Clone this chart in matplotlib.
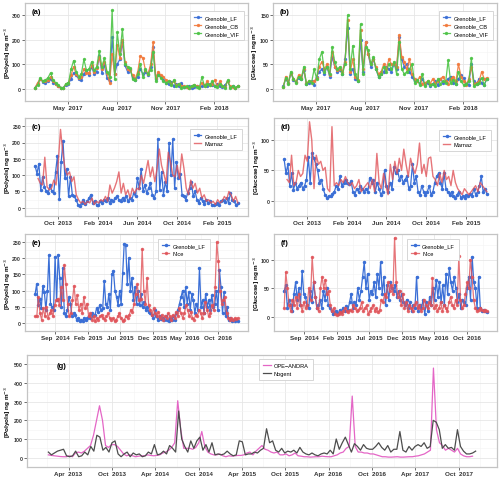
import matplotlib
matplotlib.use('Agg')
import matplotlib.pyplot as plt
import matplotlib.dates as mdates
import numpy as np
import pandas as pd

plt.rcParams['font.family'] = ['Liberation Sans', 'DejaVu Sans']

# ---------------- DATA ----------------
# Panel (a) polyols, Grenoble sites, 2017-02-28 .. 2018-03-18
a_start, a_end = '2017-02-28', '2018-03-18'
a_LF = [5, 20, 40, 28, 25, 30, 40, 25, 20, 10, 5, 3, 15,
        20, 40, 65, 55, 40, 35, 60,
        75, 55, 90, 60, 70, 135, 65, 95, 45, 30,
        210, 60, 100, 120, 190, 95, 70, 80, 45, 35,
        50, 80, 60, 70, 55, 90, 170, 40, 60, 50,
        35, 25, 20, 28, 12, 20, 10, 22, 8, 6,
        10, 5, 8, 12, 6, 10, 15, 12, 20, 15,
        10, 18, 12, 8, 15, 30, 8, 10, 5, 10]
a_CB = [5, 25, 40, 30, 30, 35, 50, 30, 20, 12, 5, 4, 18,
        22, 55, 90, 60, 45, 50, 80,
        65, 65, 95, 70, 85, 130, 80, 110, 65, 25,
        140, 60, 180, 125, 200, 110, 80, 75, 55, 40,
        70, 135, 125, 75, 60, 100, 190, 45, 70, 55,
        50, 35, 30, 20, 30, 15, 20, 10, 10, 8,
        5, 10, 15, 10, 8, 25, 10, 30, 15, 20,
        35, 10, 30, 12, 8, 30, 10, 8, 5, 10]
a_VIF = [5, 15, 45, 30, 35, 45, 65, 35, 25, 15, 5, 5, 20,
         25, 80, 115, 70, 50, 60, 120,
         75, 80, 110, 75, 90, 155, 90, 125, 70, 50,
         320, 40, 230, 140, 245, 100, 90, 85, 40, 35,
         60, 100, 50, 80, 60, 75, 150, 30, 55, 45,
         30, 25, 30, 15, 35, 10, 20, 5, 8, 10,
         5, 12, 15, 8, 5, 48, 10, 20, 15, 30,
         10, 8, 20, 10, 5, 35, 5, 10, 5, 10]

# Panel (b) glucose, same sites and period
b_LF = [5, 20, 12, 32, 18, 14, 22, 20, 38, 10, 12, 15, 8,
        25, 35, 40, 30, 45, 25, 65, 45, 35, 38, 30, 60, 125, 30, 40, 20, 15,
        100, 35, 95, 70, 45, 60, 40, 25, 30, 35, 45, 40, 35, 50, 40, 105, 60,
        45, 50, 35, 25, 15, 18, 10, 20, 8, 12, 6, 10, 15, 8, 20, 12, 15, 20,
        25, 12, 10, 20, 28, 22, 10, 8, 50, 15, 10, 20, 12, 8, 20]
b_CB = [3, 25, 12, 33, 20, 14, 28, 22, 40, 12, 15, 14, 15,
        22, 45, 55, 40, 50, 28, 75, 45, 38, 40, 35, 55, 140, 35, 60, 25, 18,
        120, 40, 95, 70, 50, 60, 45, 30, 35, 50, 40, 60, 50, 50, 45, 110, 65,
        55, 40, 60, 30, 20, 15, 25, 10, 12, 15, 10, 20, 12, 15, 20, 25, 15, 10,
        20, 25, 15, 50, 25, 15, 8, 20, 45, 10, 12, 15, 35, 20, 22]
b_VIF = [3, 22, 10, 35, 20, 12, 25, 20, 45, 10, 15, 12, 40,
         20, 60, 75, 35, 45, 30, 85, 55, 40, 45, 30, 50, 150, 40, 88, 30, 15,
         132, 30, 85, 80, 50, 65, 40, 25, 30, 45, 35, 50, 40, 55, 30, 95, 40,
         30, 35, 40, 50, 12, 18, 8, 30, 5, 15, 8, 10, 5, 20, 10, 15, 12, 58,
         12, 18, 10, 35, 15, 8, 10, 15, 62, 5, 10, 12, 22, 8, 20]

# Panel (c) polyols, Grenoble_LF vs Marnaz
c_LF_start, c_LF_end = '2013-07-23', '2015-04-05'
c_MA_start, c_MA_end = '2013-08-01', '2015-04-05'
c_LF = [128, 105, 135, 55, 95, 65, 50, 45, 70, 50, 45, 110, 160, 28, 140, 205,
        90, 120, 35, 95, 40, 35, 25, 10, 5, 15, 25, 12, 20, 30, 40, 15, 20, 10,
        8, 20, 15, 25, 20, 30, 15, 25, 20, 30, 35, 25, 20, 30, 25, 35, 20, 30,
        25, 45, 35, 90, 60, 120, 50, 70, 45, 60, 75, 40, 30, 50, 210, 55, 110,
        40, 80, 50, 200, 100, 210, 60, 140, 90, 105, 40, 35, 25, 45, 60, 80, 35,
        50, 25, 15, 30, 20, 12, 25, 15, 20, 10, 8, 12, 15, 10, 20, 25, 18, 30,
        15, 45, 25, 20, 8, 15]
c_MA = [90, 75, 70, 155, 65, 55, 60, 85, 70, 140, 240, 170, 120, 100, 110, 80,
        95, 40, 25, 15, 20, 10, 20, 15, 30, 10, 20, 15, 25, 20, 35, 20, 70, 45,
        60, 80, 110, 45, 75, 40, 55, 30, 60, 45, 60, 55, 100, 75, 110, 145, 95,
        125, 80, 120, 180, 130, 105, 75, 170, 140, 100, 95, 130, 90, 165, 120,
        60, 40, 85, 60, 75, 45, 60, 30, 40, 20, 25, 15, 20, 10, 25, 15, 20, 35,
        25, 50, 40, 20, 35, 15]

# Panel (d) glucose, Grenoble_LF vs Marnaz
d_LF = [68, 45, 60, 25, 45, 18, 30, 20, 25, 30, 20, 25, 35, 72, 30, 78, 70, 60,
        50, 30, 35, 20, 10, 5, 8, 8, 12, 15, 25, 20, 40, 25, 30, 35, 30, 28, 32,
        15, 10, 20, 15, 25, 20, 15, 20, 15, 38, 30, 35, 15, 30, 20, 10, 15, 50,
        25, 15, 30, 20, 55, 45, 50, 35, 40, 30, 35, 40, 20, 25, 60, 30, 40, 15,
        10, 25, 15, 10, 15, 25, 10, 15, 30, 40, 45, 30, 20, 45, 20, 15, 10, 15,
        8, 5, 10, 15, 5, 8, 5, 10, 8, 12, 8, 20, 10, 15, 25, 40, 15, 20, 12]
d_MA = [35, 30, 75, 25, 30, 50, 40, 45, 75, 65, 130, 100, 20, 75, 60, 65, 50,
        55, 20, 15, 122, 25, 30, 25, 35, 30, 40, 30, 25, 30, 20, 25, 35, 15, 20,
        25, 30, 20, 35, 15, 78, 30, 20, 45, 25, 10, 60, 35, 65, 45, 70, 50, 85,
        60, 40, 70, 55, 45, 60, 95, 45, 60, 40, 70, 72, 40, 35, 25, 45, 30, 50,
        35, 40, 25, 50, 30, 20, 15, 10, 20, 15, 10, 15, 20, 25, 15, 30, 25, 20, 15]

# Panel (e) polyols, Grenoble_LF vs Nice
e_start, e_end = '2014-05-30', '2017-01-03'
e_LF = [90, 120, 55, 75, 45, 115, 95, 40, 100, 210, 60, 50, 40, 205, 70, 210,
        140, 50, 170, 30, 20, 40, 80,
        60, 20, 30, 25, 10, 15, 5, 10, 5, 15, 10, 15, 20, 15, 30, 20, 25, 45, 35,
        55, 40, 45, 130, 60, 50, 90, 40, 150, 160, 100, 80, 55, 100, 60, 155,
        245, 240, 120, 200, 100, 140, 70, 110, 60, 100, 55, 90, 50, 65, 40, 50,
        35, 30, 25, 15, 40,
        20, 10, 20, 12, 15, 10, 20, 8, 5, 15, 10, 20, 10, 30, 40, 60, 80, 100, 50,
        110, 60, 95, 40, 90, 70, 30, 60, 40, 170, 50, 70, 30, 90, 50, 70, 40, 85,
        50, 60, 100, 40, 165, 110, 30, 95, 20, 50, 10, 15, 5, 10, 5, 8, 5]
e_NI = [20, 20, 80, 30, 10, 45, 20, 50, 15, 30, 40, 20, 55, 70, 75, 55, 110, 70,
        180, 120, 60, 20, 30, 70, 115, 60, 85, 40, 60, 30, 80, 45, 60, 20, 30, 10,
        20, 5, 15, 10, 20, 25, 15, 10, 20, 30, 15, 10, 15, 5, 10, 20, 30, 15, 5,
        10, 20, 15, 25, 40, 35, 60, 90, 120, 70, 75, 230, 100, 60, 140, 55, 40,
        25, 45, 30, 20, 35, 15, 25, 10, 20, 15, 30, 20, 10, 25, 15, 35, 20, 45,
        30, 15, 30, 55, 40, 20, 35, 15, 10, 25, 20, 40, 30, 15, 30, 65, 40, 20,
        30, 55, 40, 110, 250, 190, 100, 60, 70, 80, 30, 15, 10, 15, 10, 15, 12, 15]

# Panel (f) glucose, Grenoble_LF vs Nice
f_LF = [45, 55, 15, 30, 20, 10, 40, 60, 30, 50, 20, 80, 40, 35, 20, 15, 45, 25,
        60, 35, 15, 20, 30, 15, 45, 30, 50, 20, 15, 10, 5, 8, 10, 5, 12, 8, 15,
        10, 18, 12, 25, 40, 15, 25, 20, 50, 30, 45, 70, 95, 50, 75, 30, 45, 40,
        60, 35, 75, 50, 95, 40, 70, 20, 55, 30, 60, 50, 45, 55, 35, 45, 30, 40,
        25, 20, 30, 15, 25, 10, 20, 15, 70, 10, 20, 15, 30, 5, 25, 10, 35, 20,
        50, 30, 65, 35, 60, 25, 55, 20, 75, 40, 85, 60, 45, 70, 50, 25, 40, 15,
        30, 25, 20, 50, 70, 30, 105, 60, 50, 15, 70, 15, 10, 12, 10, 8]
f_NI = [15, 78, 50, 20, 10, 30, 20, 35, 15, 40, 20, 10, 25, 15, 20, 50, 30, 105,
        60, 35, 15, 10, 50, 70, 50, 65, 40, 45, 20, 10, 15, 5, 3, 5, 8, 5, 10, 15,
        10, 8, 12, 10, 20, 15, 10, 12, 15, 25, 10, 15, 20, 5, 10, 15, 20, 10, 15,
        8, 12, 30, 25, 40, 35, 60, 45, 55, 40, 138, 60, 35, 45, 20, 40, 15, 25,
        10, 20, 15, 10, 20, 25, 15, 20, 10, 15, 30, 20, 15, 25, 20, 68, 15, 20,
        10, 15, 25, 10, 20, 15, 10, 25, 35, 20, 15, 30, 20, 107, 30, 15, 20, 40,
        60, 50, 100, 70, 30, 15, 10, 12, 15, 12, 10, 12, 10]

# Panel (g) polyols, OPE-ANDRA vs Nogent
g_start, g_end = '2013-01-06', '2017-12-12'
g_OPE_end = '2017-11-29'
g_OPE = [15, 12, 10, 8, 6, 5, 5, 10, 5, 25, 30, 25, 35, 50, 65, 120, 200, 278,
         200, 65, 55, 70, 70, 60, 40, 20, 10, 15, 10, 5, 8, 10, 10, 15, 12, 10,
         12, 15, 25, 30, 40, 55, 80, 305, 150, 50, 50, 50, 45, 55, 80, 140, 60,
         30, 20, 15, 15, 20, 10, 5, 10, 8, 10, 12, 12, 15, 25, 30, 15, 35, 50,
         65, 45, 40, 30, 25, 30, 15, 15, 20, 10, 15, 25, 10, 8, 5, 5, 3, 4, 5, 5,
         8, 6, 5, 5, 10, 15, 25, 30, 50, 60, 330, 60, 30, 30, 25, 25, 20, 20, 15,
         10, 5, 5, 3, 3, 4, 5, 3, 3, 4, 5, 5, 8, 10, 15, 20, 30, 40, 480, 150, 80,
         65, 40, 50, 40, 30, 50, 20, 10, 5, 5, 8]
g_NOG = [30, 15, 25, 35, 40, 45, 10, 5, 10, 35, 5, 10, 30, 15, 60, 35, 120, 110,
         40, 55, 30, 80, 90, 20, 5, 20, 30, 5, 25, 15, 20, 5, 10, 30, 20, 70, 15,
         20, 35, 20, 65, 50, 30, 250, 100, 60, 30, 90, 50, 90, 110, 40, 70, 30,
         80, 15, 20, 15, 20, 35, 20, 10, 15, 90, 85, 15, 20, 20, 30, 25, 40, 50,
         155, 80, 90, 40, 30, 50, 25, 35, 30, 40, 25, 55, 30, 20, 15, 25, 15, 10,
         20, 25, 20, 40, 20, 100, 45, 80, 110, 70, 30, 75, 60, 40, 70, 50, 45, 45,
         60, 80, 55, 40, 65, 30, 45, 45, 140, 40, 30, 60, 40, 60, 70, 60, 80, 50,
         60, 200, 190, 150, 50, 70, 50, 55, 40, 150, 60, 35, 20, 20, 25, 35]

ticks_ab = ['2017-05-01', '2017-08-01', '2017-11-01', '2018-02-01']
labels_ab = ['May  2017', 'Aug  2017', 'Nov  2017', 'Feb  2018']
ticks_cd = ['2013-10-01', '2014-02-01', '2014-06-01', '2014-10-01', '2015-02-01']
labels_cd = ['Oct  2013', 'Feb  2014', 'Jun  2014', 'Oct  2014', 'Feb  2015']
ticks_ef = ['2014-09-01', '2015-02-01', '2015-07-01', '2015-12-01', '2016-05-01', '2016-10-01']
labels_ef = ['Sep  2014', 'Feb  2015', 'Jul  2015', 'Dec  2015', 'May  2016', 'Oct  2016']
ticks_g = ['2013-04-01', '2013-10-01', '2014-04-01', '2014-10-01', '2015-04-01',
           '2015-10-01', '2016-04-01', '2016-10-01', '2017-04-01', '2017-10-01']
labels_g = ['Apr  2013', 'Oct  2013', 'Apr  2014', 'Oct  2014', 'Apr  2015',
            'Oct  2015', 'Apr  2016', 'Oct  2016', 'Apr  2017', 'Oct  2017']

C_BLUE = '#3b6fd6'
C_ORANGE = '#f27a3c'
C_GREEN = '#4ec447'
C_RED = '#e05258'
C_PINK = '#e466c6'
C_GRAY = '#4d4d4d'

POLY = '[Polyols] ng m$^{-3}$'
GLUC = '[Glucose] ng m$^{-3}$'

# ---------------- FIGURE ----------------
W, H = 500, 481
fig = plt.figure(figsize=(W / 100, H / 100), dpi=100)


def box(l, t, r, b):
    return [l / W, 1 - b / H, (r - l) / W, (b - t) / H]


def dr(s, e, vals):
    return pd.date_range(s, e, periods=len(vals))


def style(ax, ticks, labels, yticks, ylabel, letter, lx=0.03, ylx=-0.056):
    ax.set_facecolor('white')
    for s in ax.spines.values():
        s.set_color('#c4c4c4')
        s.set_linewidth(0.9)
    ax.margins(x=0.05, y=0.05)
    tk = pd.to_datetime(ticks)
    ax.set_xticks(tk)
    ax.set_xticklabels(labels)
    ax.set_yticks(yticks)
    t = mdates.date2num(tk)
    step = np.diff(t).mean()
    mids = np.concatenate([[t[0] - step / 2], (t[:-1] + t[1:]) / 2, [t[-1] + step / 2]])
    ax.set_xticks(mids, minor=True)
    yt = np.array(yticks, float)
    ys = yt[1] - yt[0]
    ax.set_yticks(np.concatenate([[yt[0] - ys / 2], yt + ys / 2]), minor=True)
    ax.tick_params(which='major', length=2, width=0.5,
                   color='#333333', labelcolor='#333333')
    ax.tick_params(axis='x', which='major', labelsize=4.5, pad=1.2)
    ax.tick_params(axis='y', which='major', labelsize=3.7, pad=0.8)
    ax.tick_params(which='minor', length=0)
    for lbl in ax.get_xticklabels() + ax.get_yticklabels():
        lbl.set_fontweight('bold')
    ax.grid(True, which='major', color='#e6e6e6', lw=0.6)
    ax.grid(True, which='minor', color='#f3f3f3', lw=0.4)
    ax.set_axisbelow(True)
    ax.set_ylabel(ylabel, fontsize=4.6, fontweight='bold')
    ax.yaxis.set_label_coords(ylx, 0.5)
    ax.text(lx, 0.91, letter, transform=ax.transAxes, fontsize=5.5,
            fontweight='bold', va='center', ha='left')


def leg(ax, fx, fy):
    lg = ax.legend(loc='upper left', bbox_to_anchor=(fx, fy), fontsize=4.1,
                   frameon=True, fancybox=False, edgecolor='#d0d0d0', framealpha=1,
                   handlelength=1.3, borderpad=0.7, labelspacing=0.55,
                   handletextpad=0.6, borderaxespad=0)
    lg.get_frame().set_linewidth(0.6)


lkw = dict(lw=0.9, marker='o', ms=1.4, alpha=0.9)

# (a)
ax = fig.add_axes(box(25, 4, 248, 102))
ax.plot(dr(a_start, a_end, a_LF), a_LF, color=C_BLUE, label='Grenoble_LF', **lkw)
ax.plot(dr(a_start, a_end, a_CB), a_CB, color=C_ORANGE, label='Grenoble_CB', **lkw)
ax.plot(dr(a_start, a_end, a_VIF), a_VIF, color=C_GREEN, label='Grenoble_VIF', **lkw)
style(ax, ticks_ab, labels_ab, [0, 100, 200, 300], POLY, '(a)')
leg(ax, 0.74, 0.918)

# (b)
ax = fig.add_axes(box(273, 4, 497, 102))
ax.plot(dr(a_start, a_end, b_LF), b_LF, color=C_BLUE, label='Grenoble_LF', **lkw)
ax.plot(dr(a_start, a_end, b_CB), b_CB, color=C_ORANGE, label='Grenoble_CB', **lkw)
ax.plot(dr(a_start, a_end, b_VIF), b_VIF, color=C_GREEN, label='Grenoble_VIF', **lkw)
style(ax, ticks_ab, labels_ab, [0, 50, 100, 150], GLUC, '(b)')
leg(ax, 0.74, 0.918)

# (c)
ax = fig.add_axes(box(25, 119, 248, 217))
ax.plot(dr(c_LF_start, c_LF_end, c_LF), c_LF, color=C_BLUE, label='Grenoble_LF',
        lw=0.9, marker='o', ms=1.5)
ax.plot(dr(c_MA_start, c_MA_end, c_MA), c_MA, color=C_RED, label='Marnaz',
        lw=1.0, alpha=0.8)
style(ax, ticks_cd, labels_cd, [0, 50, 100, 150, 200, 250], POLY, '(c)')
leg(ax, 0.74, 0.888)

# (d)
ax = fig.add_axes(box(274, 119, 497, 217))
ax.plot(dr(c_LF_start, c_LF_end, d_LF), d_LF, color=C_BLUE, label='Grenoble_LF',
        lw=0.9, marker='o', ms=1.5)
ax.plot(dr(c_MA_start, c_MA_end, d_MA), d_MA, color=C_RED, label='Marnaz',
        lw=1.0, alpha=0.8)
style(ax, ticks_cd, labels_cd, [0, 50, 100], GLUC, '(d)')
leg(ax, 0.74, 0.878)

# (e)
ax = fig.add_axes(box(25, 235, 248, 332))
ax.plot(dr(e_start, e_end, e_LF), e_LF, color=C_BLUE, label='Grenoble_LF',
        lw=0.9, marker='o', ms=1.5)
ax.plot(dr(e_start, e_end, e_NI), e_NI, color=C_RED, label='Nice',
        lw=0.9, marker='o', ms=1.5, alpha=0.8)
style(ax, ticks_ef, labels_ef, [0, 50, 100, 150, 200, 250], POLY, '(e)')
leg(ax, 0.596, 0.948)

# (f)
ax = fig.add_axes(box(274, 235, 497, 332))
ax.plot(dr(e_start, e_end, f_LF), f_LF, color=C_BLUE, label='Grenoble_LF',
        lw=0.9, marker='o', ms=1.5)
ax.plot(dr(e_start, e_end, f_NI), f_NI, color=C_RED, label='Nice',
        lw=0.9, marker='o', ms=1.5, alpha=0.8)
style(ax, ticks_ef, labels_ef, [0, 50, 100], GLUC, '(f)')
leg(ax, 0.598, 0.948)

# (g)
ax = fig.add_axes(box(27, 356, 497, 468))
ax.plot(dr(g_start, g_OPE_end, g_OPE), g_OPE, color=C_PINK, label='OPE\u2212ANDRA', lw=0.9)
ax.plot(dr(g_start, g_end, g_NOG), g_NOG, color=C_GRAY, label='Nogent', lw=0.9)
style(ax, ticks_g, labels_g, [0, 100, 200, 300, 400, 500], POLY, '(g)', lx=0.064,
      ylx=-0.029)
leg(ax, 0.494, 0.964)

fig.savefig('out.png', dpi=100)
